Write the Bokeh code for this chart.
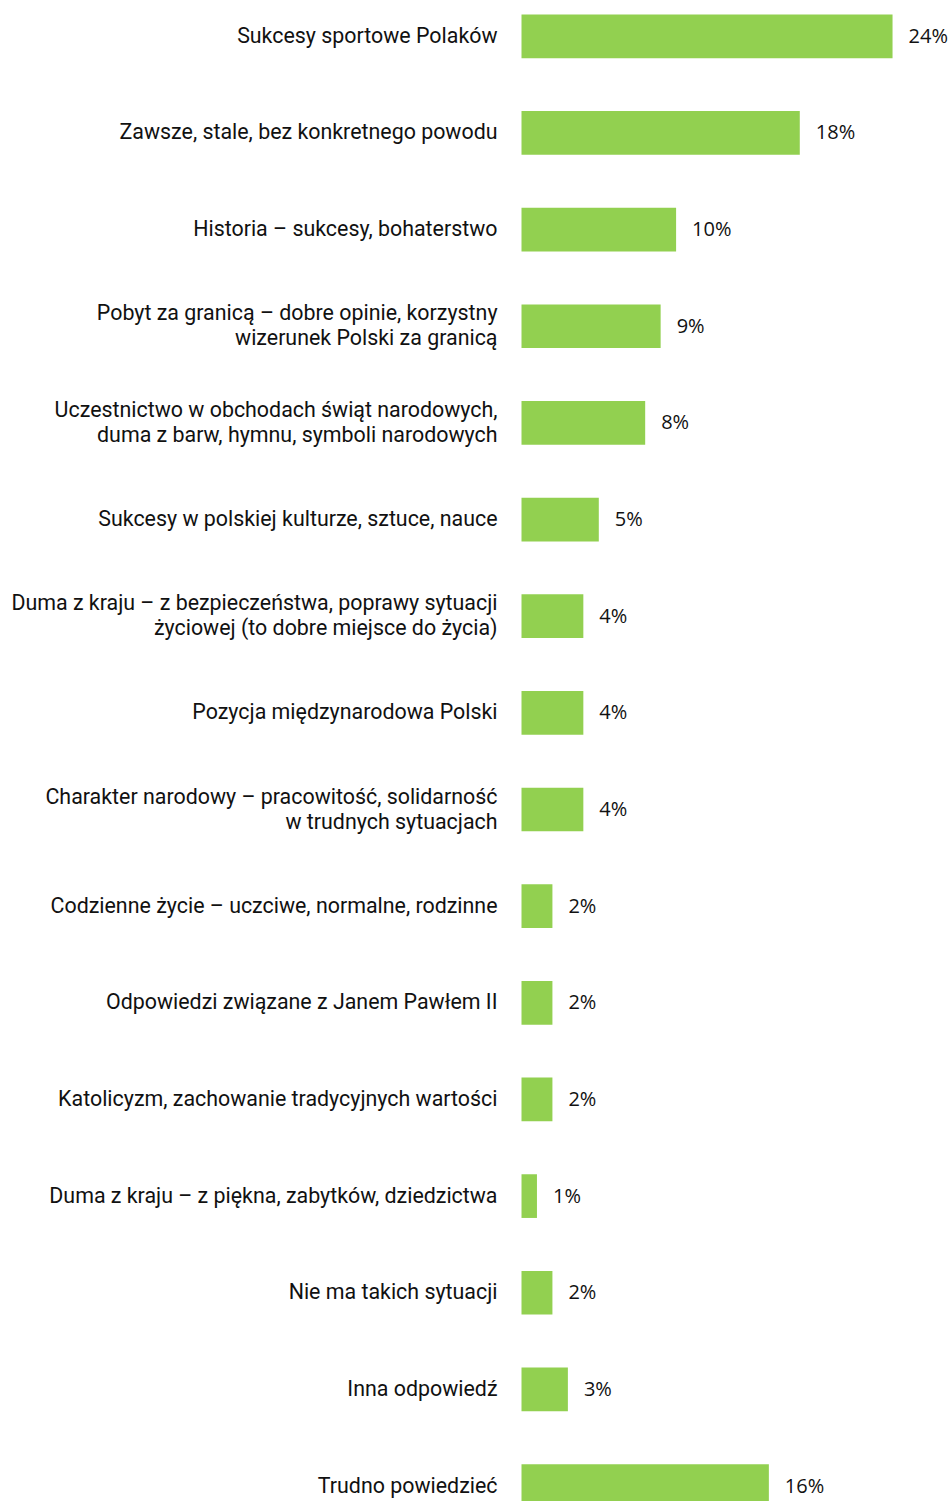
from bokeh.plotting import figure
from bokeh.models import ColumnDataSource, Range1d
from bokeh.core.properties import value
from bokeh.embed import file_html
from bokeh.resources import INLINE

categories = [
    "Sukcesy sportowe Polaków",
    "Zawsze, stale, bez konkretnego powodu",
    "Historia – sukcesy, bohaterstwo",
    "Pobyt za granicą – dobre opinie, korzystny\nwizerunek Polski za granicą",
    "Uczestnictwo w obchodach świąt narodowych,\nduma z barw, hymnu, symboli narodowych",
    "Sukcesy w polskiej kulturze, sztuce, nauce",
    "Duma z kraju – z bezpieczeństwa, poprawy sytuacji\nżyciowej (to dobre miejsce do życia)",
    "Pozycja międzynarodowa Polski",
    "Charakter narodowy – pracowitość, solidarność\nw trudnych sytuacjach",
    "Codzienne życie – uczciwe, normalne, rodzinne",
    "Odpowiedzi związane z Janem Pawłem II",
    "Katolicyzm, zachowanie tradycyjnych wartości",
    "Duma z kraju – z piękna, zabytków, dziedzictwa",
    "Nie ma takich sytuacji",
    "Inna odpowiedź",
    "Trudno powiedzieć",
]
values = [24, 18, 10, 9, 8, 5, 4, 4, 4, 2, 2, 2, 1, 2, 3, 16]
value_labels = [f"{v}%" for v in values]

W, H = 951, 1501
px_per_unit = 15.46
bar_left_px = 521
row_px = 96.65
first_center_px = 35.8

pos = list(range(len(categories)))
src = ColumnDataSource(dict(y=pos, v=values, cat=categories, lab=value_labels,
                            zero=[0] * len(values)))

p = figure(width=W, height=H, output_backend="svg", toolbar_location=None,
           x_range=Range1d(-bar_left_px / px_per_unit, (W - bar_left_px) / px_per_unit),
           y_range=Range1d((H - first_center_px) / row_px, -first_center_px / row_px),
           min_border=0)
p.axis.visible = False
p.grid.visible = False
p.outline_line_color = None
p.background_fill_color = "white"
p.border_fill_color = "white"

p.hbar(y="y", left="zero", right="v", height=43.7 / row_px, source=src,
       fill_color="#92D050", line_color=None)

p.text(x="zero", y="y", text="cat", source=src, x_offset=-24, y_offset=-1,
       text_align="right", text_baseline="middle",
       text_font=value("Roboto"), text_font_size="21.4px",
       text_color="#111111", text_line_height=1.0)

p.text(x="v", y="y", text="lab", source=src, x_offset=16, y_offset=-1,
       text_align="left", text_baseline="middle",
       text_font=value("Open Sans"), text_font_size="20px",
       text_color="#111111")

open("out.html", "w").write(file_html(p, INLINE))
